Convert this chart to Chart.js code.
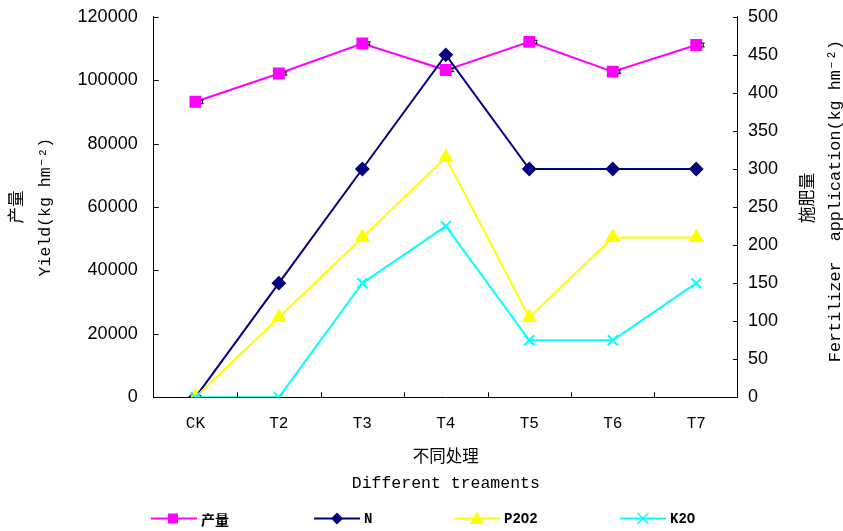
<!DOCTYPE html>
<html>
<head>
<meta charset="utf-8">
<script src="https://cdn.jsdelivr.net/npm/chart.js@4.4.1/dist/chart.umd.min.js"></script>
<style>
  body { margin: 0; background: #fff; }
  #wrap { position: relative; width: 843px; height: 531px; overflow: hidden; }
  #chart { position: absolute; left: 0; top: -10px; }
  #legend { position: absolute; left: 0; top: 509px; width: 843px; height: 19px; font: bold 14px "Liberation Mono", "Noto Sans CJK SC", monospace; }
  #legend .item { position: absolute; top: 0; display: flex; align-items: center; height: 19px; }
  #legend svg { margin-right: 4px; }
  .rtitle { position: absolute; white-space: pre; font: 16.8px "Liberation Mono", "Noto Sans CJK SC", monospace; transform: translate(-50%, -50%) rotate(-90deg); }
</style>
</head>
<body>
<div id="wrap">
  <canvas id="chart" width="843" height="541"></canvas>
  <div class="rtitle" style="left:806px; top:198px;">施肥量</div>
  <div class="rtitle" style="left:834px; top:201px;">Fertilizer  application(kg hm⁻²)</div>
  <div id="legend"></div>
</div>
<script>
// categories
const treatments = ['CK', 'T2', 'T3', 'T4', 'T5', 'T6', 'T7'];

// yield (left axis) and its error
const yieldVals = [93200, 102100, 111600, 103200, 112100, 102700, 111100];
const yieldErr = [600, 500, 500, 500, 500, 500, 600];

// fertilizer application (right axis)
const nVals = [0, 150, 300, 450, 300, 300, 300];
const p2o5Vals = [0, 105, 210, 315, 105, 210, 210];
const k2oVals = [0, 0, 150, 225, 75, 75, 150];

const leftTicks = [0, 20000, 40000, 60000, 80000, 100000, 120000];
const rightTicks = [0, 50, 100, 150, 200, 250, 300, 350, 400, 450, 500];

Chart.defaults.font.family = '"Liberation Sans", Arial, sans-serif';
Chart.defaults.color = '#000';

// small error bars to the right of the yield squares
const errorBars = {
    id: 'errorBars',
    afterDatasetsDraw(chart) {
        const ctx = chart.ctx;
        const meta = chart.getDatasetMeta(0);
        const y = chart.scales.y;
        ctx.save();
        ctx.strokeStyle = '#000';
        ctx.lineWidth = 1;
        meta.data.forEach((pt, i) => {
            const x = pt.x + 5.5;
            const top = y.getPixelForValue(yieldVals[i] + yieldErr[i]);
            const bot = y.getPixelForValue(yieldVals[i] - yieldErr[i]);
            ctx.beginPath();
            ctx.moveTo(x, top); ctx.lineTo(x + 3, top);
            ctx.moveTo(x, bot); ctx.lineTo(x + 3, bot);
            ctx.moveTo(x + 1.5, top); ctx.lineTo(x + 1.5, bot);
            ctx.stroke();
        });
        ctx.restore();
    }
};

// tick marks pointing into the plot
const innerTicks = {
    id: 'innerTicks',
    afterDraw(chart) {
        const ctx = chart.ctx;
        const a = chart.chartArea;
        const {y, y1} = chart.scales;
        ctx.save();
        ctx.strokeStyle = '#000';
        ctx.lineWidth = 1;
        ctx.beginPath();
        y.ticks.forEach((t, i) => {
            const py = Math.round(y.getPixelForTick(i)) + 0.5;
            ctx.moveTo(a.left, py); ctx.lineTo(a.left + 5, py);
        });
        y1.ticks.forEach((t, i) => {
            const py = Math.round(y1.getPixelForTick(i)) + 0.5;
            ctx.moveTo(a.right, py); ctx.lineTo(a.right - 5, py);
        });
        const step = (a.right - a.left) / treatments.length;
        for (let i = 1; i < treatments.length; i++) {
            const px = Math.round(a.left + step * i) + 0.5;
            ctx.moveTo(px, a.bottom); ctx.lineTo(px, a.bottom - 5);
        }
        ctx.stroke();
        ctx.restore();
    }
};

const titleFont = { family: '"Liberation Mono", "Noto Sans CJK SC", monospace', size: 16.5 };

const config = {
    type: 'line',
    data: {
        labels: treatments,
        datasets: [
            { label: '产量', data: yieldVals, yAxisID: 'y', borderColor: '#ff00ff', backgroundColor: '#ff00ff',
              borderWidth: 2, pointStyle: 'rect', pointRadius: 7, order: 4 },
            { label: 'N', data: nVals, yAxisID: 'y1', borderColor: '#000080', backgroundColor: '#000080',
              borderWidth: 2, pointStyle: 'rectRot', pointRadius: 6, order: 3 },
            { label: 'P2O2', data: p2o5Vals, yAxisID: 'y1', borderColor: '#ffff00', backgroundColor: '#ffff00',
              borderWidth: 2, pointStyle: 'triangle', pointRadius: 7, order: 2 },
            { label: 'K2O', data: k2oVals, yAxisID: 'y1', borderColor: '#00ffff', backgroundColor: '#00ffff',
              borderWidth: 2, pointStyle: 'crossRot', pointRadius: 7, order: 1 }
        ]
    },
    options: {
        responsive: false,
        animation: false,
        layout: { padding: { left: 4, right: 55, top: 2, bottom: 35 } },
        plugins: { legend: { display: false }, tooltip: { enabled: false } },
        scales: {
            x: {
                offset: true,
                grid: { display: false, drawTicks: false },
                border: { color: '#000', width: 1 },
                ticks: { padding: 17, font: { family: '"Liberation Mono", monospace', size: 16 } },
                title: { display: true, text: ['不同处理', 'Different treaments'], font: { ...titleFont, lineHeight: 1.56 }, padding: { top: -6, bottom: 0 } }
            },
            y: {
                position: 'left',
                min: 0, max: 120000,
                afterBuildTicks: s => { s.ticks = leftTicks.map(v => ({ value: v })); },
                grid: { display: false, drawTicks: false },
                border: { color: '#000', width: 1 },
                ticks: { padding: 16, font: { size: 18 }, callback: v => String(v) },
                title: { display: true, text: ['产量', 'Yield(kg hm⁻²)'], font: { ...titleFont, lineHeight: 1.7 }, padding: { top: 0, bottom: 1.5 } }
            },
            y1: {
                position: 'right',
                min: 0, max: 500,
                afterBuildTicks: s => { s.ticks = rightTicks.map(v => ({ value: v })); },
                grid: { display: false, drawTicks: false },
                border: { color: '#000', width: 1 },
                ticks: { padding: 10, font: { size: 18 }, callback: v => String(v) }
            }
        }
    },
    plugins: [errorBars, innerTicks]
};

new Chart(document.getElementById('chart').getContext('2d'), config);

// HTML legend: short line with marker, then bold label
const legendItems = [
    { text: '产量', color: '#ff00ff', left: 151, mark: '<rect x="17" y="4.5" width="10" height="10" fill="#ff00ff"/>' },
    { text: 'N', color: '#000080', left: 314, mark: '<polygon points="23,3.5 29,9.5 23,15.5 17,9.5" fill="#000080"/>' },
    { text: 'P2O2', color: '#ffff00', left: 454, mark: '<polygon points="23,2.5 30,15 16,15" fill="#ffff00"/>' },
    { text: 'K2O', color: '#00ffff', left: 620, mark: '<path d="M17.5 4 L28.5 15 M28.5 4 L17.5 15" stroke="#00ffff" stroke-width="1.5"/>' }
];
const legend = document.getElementById('legend');
legendItems.forEach(it => {
    const d = document.createElement('div');
    d.className = 'item';
    d.style.left = it.left + 'px';
    d.innerHTML = '<svg width="46" height="19"><line x1="0" y1="9.5" x2="46" y2="9.5" stroke="' + it.color + '" stroke-width="2"/>' + it.mark + '</svg><span>' + it.text + '</span>';
    legend.appendChild(d);
});
</script>
</body>
</html>
